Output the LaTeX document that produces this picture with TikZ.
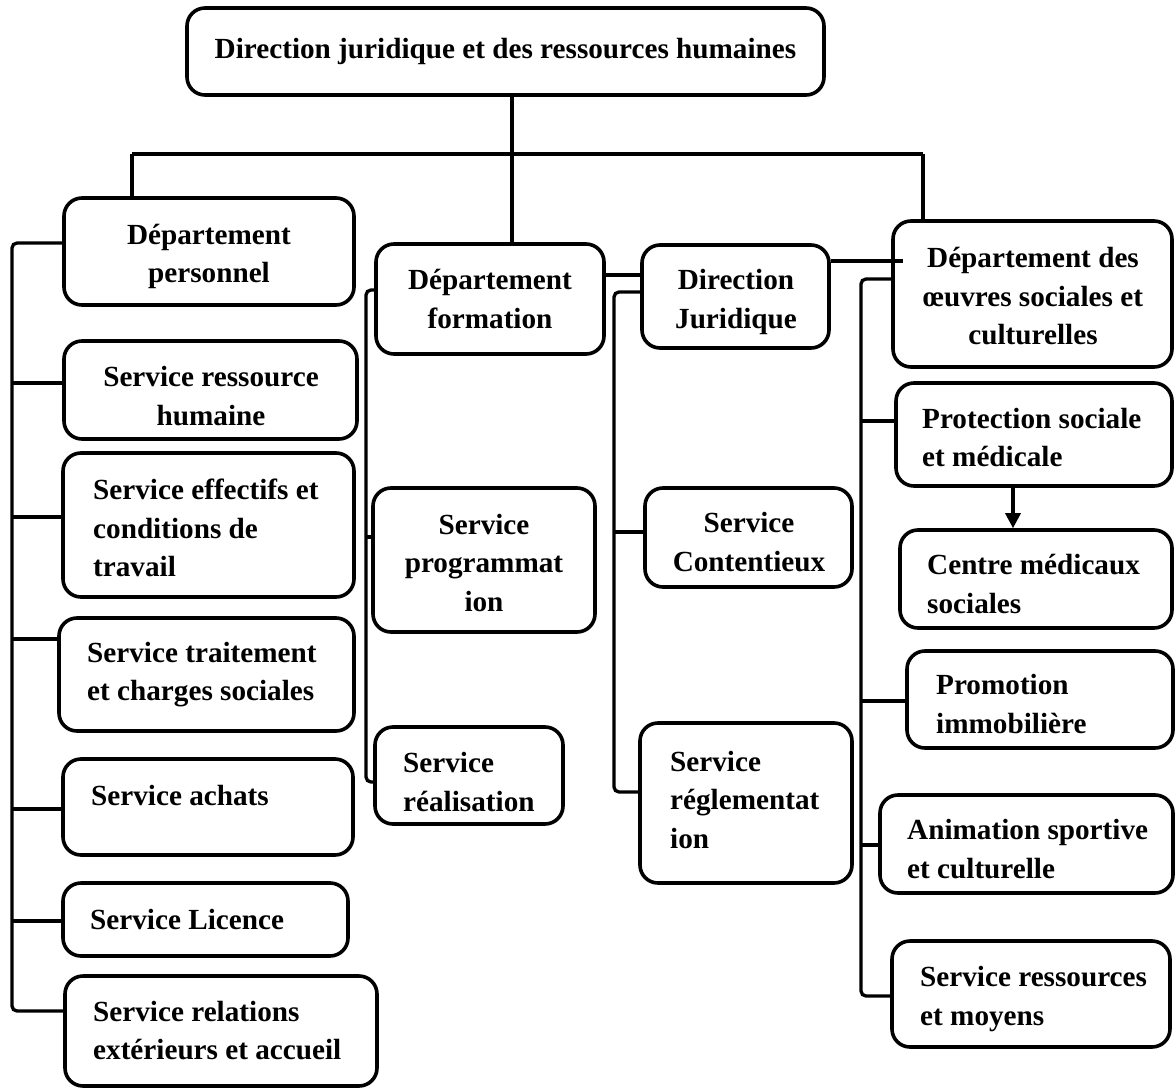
\documentclass[tikz,border=0pt]{standalone}
\usepackage{fontspec}
\setmainfont{Liberation Serif}
\usetikzlibrary{arrows.meta}

\tikzset{
  obox/.style={draw, line width=3.6pt, rounded corners=18pt, inner sep=0pt},
  link/.style={line width=3.3pt},
  lbl/.style={inner sep=0pt, font=\bfseries\fontsize{29.2}{38.5}\selectfont,
              execute at begin node=\strut, execute at end node=\strut},
  ctr/.style={lbl, align=center},
  lft/.style={lbl, align=left, anchor=west},
}
% rounded box given by its left, top, right and bottom edges
\newcommand\orgbox[5]{\node[obox, minimum width={#4-#2}, minimum height={#5-#3}] (#1) at ({(#2+#4)/2},{(#3+#5)/2}) {};}
% horizontal tick from a vertical bus to the west side of a box
\newcommand\branch[3]{\path ([yshift=#2]#1.west) coordinate (#1-j); \draw[link] (#3 |- #1-j) -- (#1-j);}

\begin{document}
\begin{tikzpicture}[x=1pt,y=-1pt]
\useasboundingbox (0,0) rectangle (1176,1092);

% ---------- boxes ----------
\orgbox{top}{187}{8}{824}{95}
\orgbox{dp}{64}{198}{354}{305}
\orgbox{srh}{64}{341}{357}{439}
\orgbox{eff}{63}{453}{354}{597}
\orgbox{trt}{59}{618}{354}{731}
\orgbox{ach}{63}{759}{353}{855}
\orgbox{lic}{63}{883}{348}{956}
\orgbox{rel}{65}{976}{377}{1086}
\orgbox{df}{376}{244}{604}{354}
\orgbox{prg}{373}{488}{595}{632}
\orgbox{srl}{375}{727}{563}{824}
\orgbox{dj}{642}{245}{829}{348}
\orgbox{cnt}{645}{488}{852}{587}
\orgbox{reg}{640}{723}{852}{883}
\orgbox{ds}{893}{221}{1172}{367}
\orgbox{pro}{896}{383}{1172}{486}
\orgbox{cmd}{900}{530}{1172}{628}
\orgbox{prm}{907}{651}{1173}{748}
\orgbox{ani}{880}{795}{1173}{893}
\orgbox{srm}{892}{941}{1170}{1047}

% ---------- labels ----------
\node[ctr] (top-t) at (505.5,50.5) {Direction juridique et des ressources humaines};
\node[ctr] (dp-t)  at (209,259) {Département\\personnel};
\node[ctr] (srh-t) at (211,401.5) {Service ressource\\humaine};
\node[lft] (eff-t) at (93,533.5) {Service effectifs et\\conditions de\\travail};
\node[lft] (trt-t) at (87,677) {Service traitement\\et charges sociales};
\node[lft] (ach-t) at (91,798) {Service achats};
\node[lft] (lic-t) at (90,922) {Service Licence};
\node[lft] (rel-t) at (93,1036) {Service relations\\extérieurs et accueil};
\node[ctr] (df-t)  at (490,304.5) {Département\\formation};
\node[ctr] (prg-t) at (484,568.5) {Service\\programmat\\ion};
\node[lft] (srl-t) at (403,787.5) {Service\\réalisation};
\node[ctr] (dj-t)  at (736,304.5) {Direction\\Juridique};
\node[ctr] (cnt-t) at (749,547.5) {Service\\Contentieux};
\node[lft] (reg-t) at (670,805.5) {Service\\réglementat\\ion};
\node[ctr] (ds-t)  at (1033,302) {Département des\\œuvres sociales et\\culturelles};
\node[lft] (pro-t) at (922,443) {Protection sociale\\et médicale};
\node[lft] (cmd-t) at (927,589.5) {Centre médicaux\\sociales};
\node[lft] (prm-t) at (936,709.5) {Promotion\\immobilière};
\node[lft] (ani-t) at (907,854.5) {Animation sportive\\et culturelle};
\node[lft] (srm-t) at (920,1001.5) {Service ressources\\et moyens};

% ---------- top level ----------
\path ([xshift=6.5pt]top.south) coordinate (top-j);
\draw[link] (top-j) -- (top-j |- df.north);
\coordinate (barL) at (132,154);
\coordinate (barR) at (923,154);
\draw[link] (barL) -- (barR);
\draw[link] (barL) -- (barL |- dp.north);
\draw[link] (barR) -- (barR |- ds.north);

\path ([yshift=24pt]df.east) coordinate (df-e);
\draw[link] (df-e) -- (df-e -| dj.west);
\path ([yshift=35.5pt]dj.east) coordinate (dj-e);
\draw[link] (dj-e) -- (dj-e -| ds.west) -- ++(12,0);

% ---------- vertical buses ----------
\coordinate (busA) at (12,0);
\coordinate (busB) at (366,0);
\coordinate (busC) at (614,0);
\coordinate (busD) at (861,0);

\path ([yshift=8.5pt]dp.west) coordinate (dp-j);
\path ([yshift=20pt]rel.west) coordinate (rel-j);
\draw[link, rounded corners=5pt] (dp-j) -| (busA |- rel-j) -- (rel-j);

\path ([yshift=9pt]df.west) coordinate (df-j);
\path ([yshift=-6.5pt]srl.west) coordinate (srl-j);
\draw[link, rounded corners=5pt] (df-j) -| (busB |- srl-j) -- (srl-j);

\path ([yshift=4.5pt]dj.west) coordinate (dj-j);
\path ([yshift=11pt]reg.west) coordinate (reg-j);
\draw[link, rounded corners=5pt] (dj-j) -| (busC |- reg-j) -- (reg-j);

\path ([yshift=15pt]ds.west) coordinate (ds-j);
\path ([yshift=-2pt]srm.west) coordinate (srm-j);
\draw[link, rounded corners=5pt] (ds-j) -| (busD |- srm-j) -- (srm-j);

% ---------- branches ----------
\branch{srh}{7pt}{busA}
\branch{eff}{8pt}{busA}
\branch{trt}{35.5pt}{busA}
\branch{ach}{-2pt}{busA}
\branch{lic}{-1.5pt}{busA}
\branch{prg}{23pt}{busB}
\branch{cnt}{5.5pt}{busC}
\branch{pro}{13.5pt}{busD}
\branch{prm}{-1.5pt}{busD}
\branch{ani}{-1pt}{busD}

% ---------- arrow ----------
\path ([xshift=-21pt]pro.south) coordinate (pro-s);
\draw[link, -{Triangle[length=15pt,width=15pt]}] (pro-s) -- (pro-s |- cmd.north);
\end{tikzpicture}
\end{document}
